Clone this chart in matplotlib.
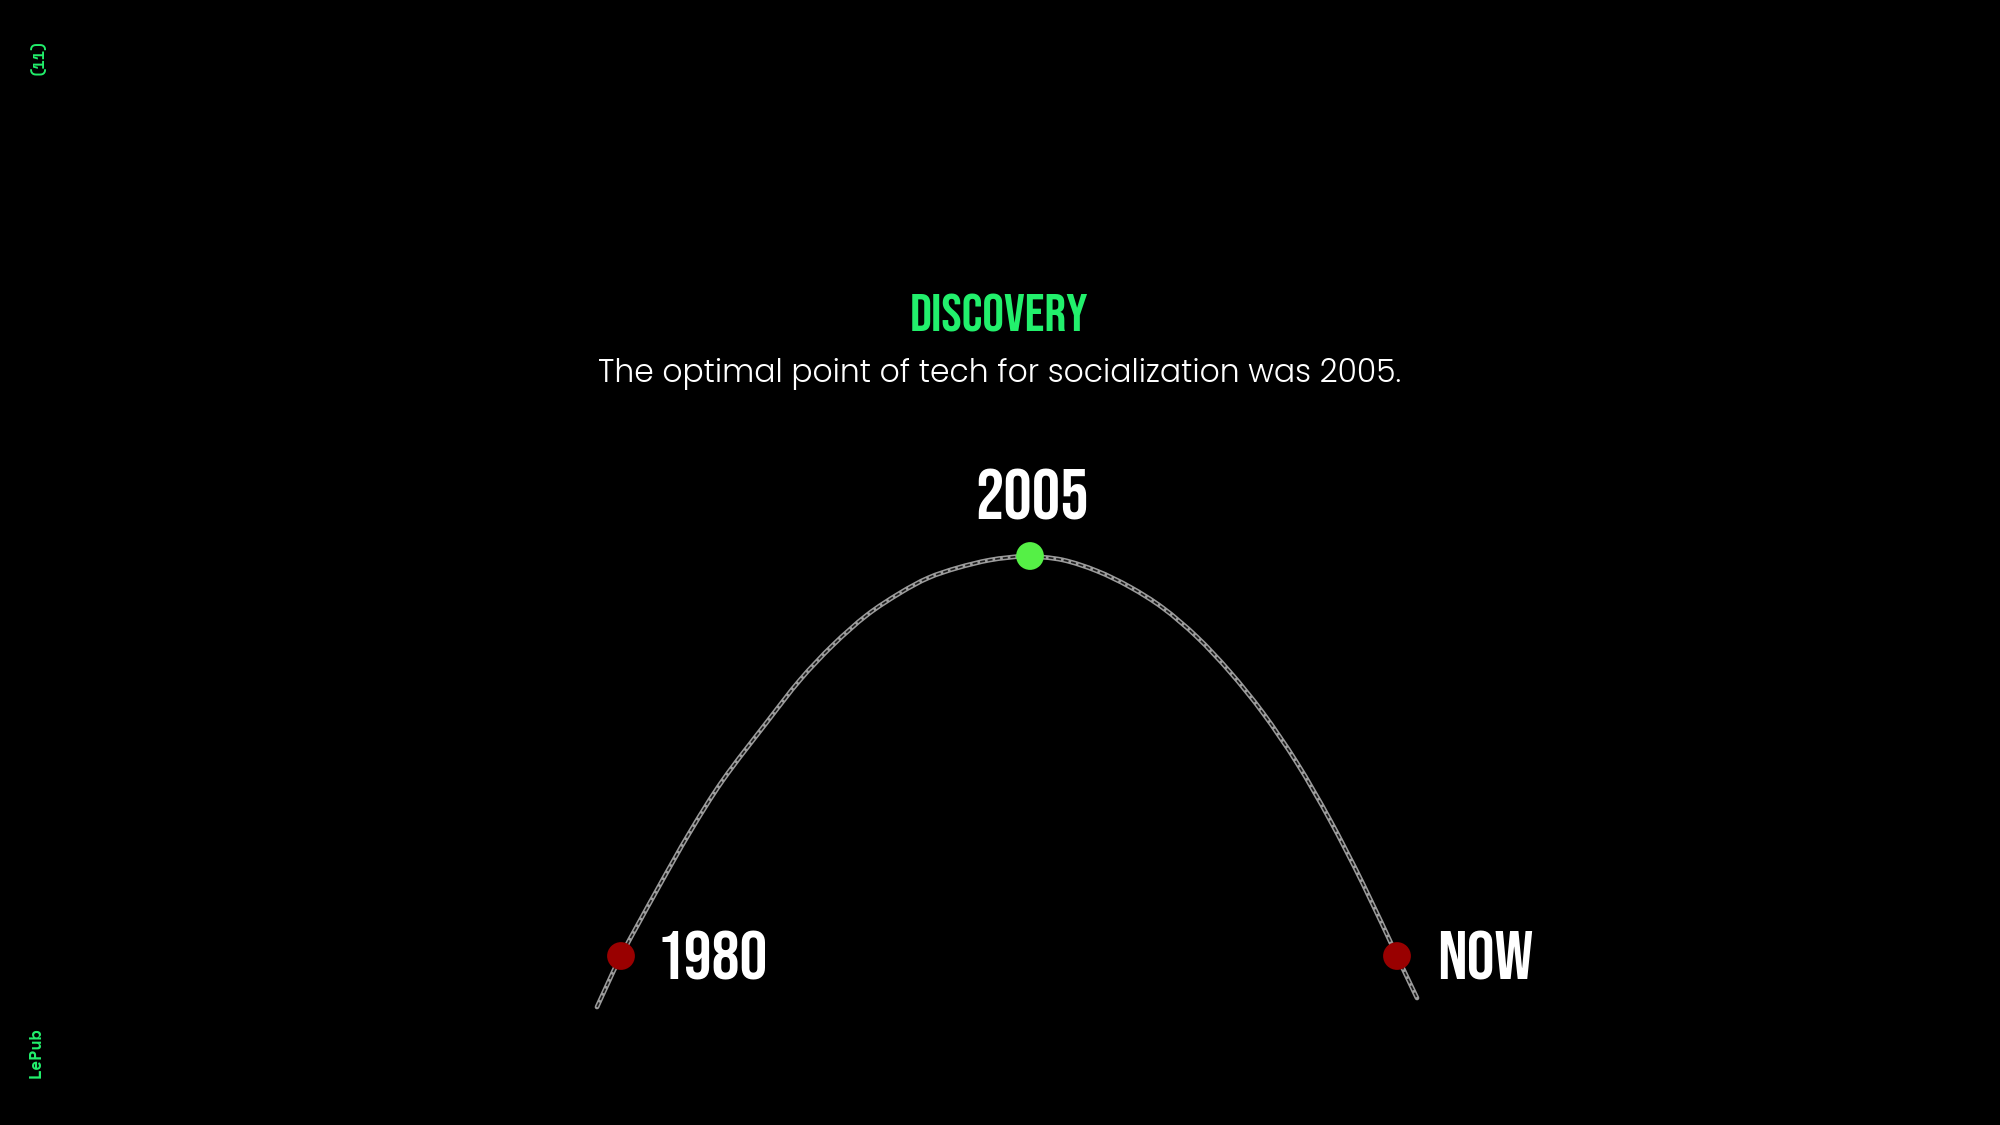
import matplotlib
matplotlib.use('Agg')
import matplotlib.pyplot as plt
from matplotlib import font_manager as fm
from matplotlib.path import Path
from matplotlib.patches import PathPatch

# ── Data (in pixel coords of a 2000x1125 canvas) ─────────────────────────────
curve_x = [597, 621, 657, 690, 723, 767, 800, 833, 867, 900, 928, 957, 990, 1023,
           1030, 1063, 1097, 1130, 1163, 1197, 1230, 1263, 1297, 1330, 1363, 1397, 1417]
curve_y = [1007, 956, 890, 832, 780, 722, 680, 645, 615, 593, 578, 568, 560, 556,
           556, 560, 571, 587, 608, 637, 672, 713, 763, 820, 884, 956, 998]

point_labels = ['1980', '2005', 'NOW']
point_x = [621, 1030, 1397]
point_y = [956, 556, 956]
point_colors = ['#990000', '#55f046', '#990000']

title = 'DISCOVERY'
subtitle = 'The optimal point of tech for socialization was 2005.'
side_top = '(11)'
side_bottom = 'LePub'

# ── Fonts ────────────────────────────────────────────────────────────────────
fonts = fm.fontManager.ttflist

def pick(*names, weights=None):
    # first family that is installed (and, if asked, has a weight in range)
    for n in names:
        ws = [f.weight for f in fonts if f.name == n]
        if not ws:
            continue
        if weights is None or any(weights[0] <= int(w) <= weights[1]
                                  for w in ws if str(w).isdigit()):
            return n
    return 'DejaVu Sans'

HEAD = pick('Bebas Neue', 'Oswald', 'Liberation Sans Narrow')
BODY = pick('Montserrat', 'Poppins', 'Open Sans', 'Lato', weights=(300, 400))
MONO = pick('Space Mono', 'DejaVu Sans Mono')

GREEN = '#22f06c'

def smooth_path(xs, ys):
    # Catmull-Rom through the read points, drawn as cubic Bezier segments
    pts = list(zip(xs, ys))
    verts = [pts[0]]
    codes = [Path.MOVETO]
    for i in range(len(pts) - 1):
        p0 = pts[i - 1] if i > 0 else pts[i]
        p1, p2 = pts[i], pts[i + 1]
        p3 = pts[i + 2] if i + 2 < len(pts) else pts[i + 1]
        c1 = (p1[0] + (p2[0] - p0[0]) / 6, p1[1] + (p2[1] - p0[1]) / 6)
        c2 = (p2[0] - (p3[0] - p1[0]) / 6, p2[1] - (p3[1] - p1[1]) / 6)
        verts += [c1, c2, p2]
        codes += [Path.CURVE4] * 3
    return Path(verts, codes)

# ── Figure ───────────────────────────────────────────────────────────────────
fig = plt.figure(figsize=(20, 11.25), dpi=100, facecolor='black')
ax = fig.add_axes([0, 0, 1, 1], facecolor='black')
ax.set_xlim(0, 2000)
ax.set_ylim(1125, 0)
ax.axis('off')

# chain-like curve: grey band with a dark dashed core
path = smooth_path(curve_x, curve_y)
ax.add_patch(PathPatch(path, facecolor='none', edgecolor='#9c9c9c', lw=3.4,
                       capstyle='round', joinstyle='round', zorder=2))
ax.add_patch(PathPatch(path, facecolor='none', edgecolor='#1c1c1c', lw=1.2,
                       linestyle=(0, (3, 1.6)), zorder=3))

ax.scatter(point_x, point_y, s=20 ** 2, c=point_colors, zorder=4, linewidths=0)

# point labels
ax.text(point_x[0] + 36, point_y[0] + 24, point_labels[0], color='white',
        family=HEAD, fontsize=50, ha='left', va='baseline', zorder=5)
ax.text(point_x[1] + 2, point_y[1] - 36, point_labels[1], color='white',
        family=HEAD, fontsize=51, ha='center', va='baseline', zorder=5)
ax.text(point_x[2] + 40, point_y[2] + 24, point_labels[2], color='white',
        family=HEAD, fontsize=50, ha='left', va='baseline', zorder=5)

# heading
ax.text(999, 332, title, color=GREEN, family=HEAD, fontsize=39,
        ha='center', va='baseline')
ax.text(1000, 382, subtitle, color='white', family=BODY, fontsize=22.6,
        fontweight=300, ha='center', va='baseline')

# side marks
ax.text(38, 56, side_top, color=GREEN, family=MONO, fontsize=11,
        fontweight='bold', rotation=90, ha='center', va='center')
ax.text(37, 1053, side_bottom, color=GREEN, family=MONO, fontsize=12,
        fontweight='bold', rotation=90, ha='center', va='center')

fig.savefig('out.png', dpi=100, facecolor='black')
